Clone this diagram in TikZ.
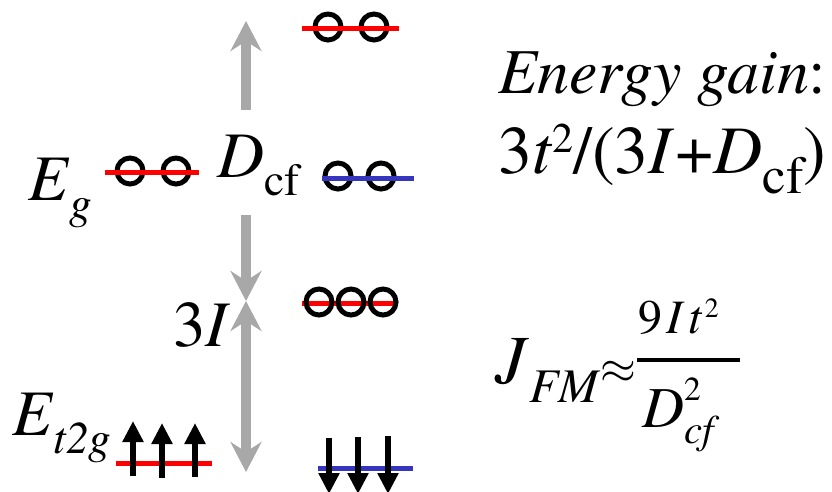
\RequirePackage{fix-cm}
\documentclass[tikz,border=0pt]{standalone}
\usepackage{fontspec}
\IfFontExistsTF{texgyretermes-regular.otf}{%
  \setmainfont{texgyretermes}[Extension=.otf, UprightFont=*-regular, ItalicFont=*-italic, BoldFont=*-bold, BoldItalicFont=*-bolditalic]}{}
\usepackage{graphicx}
\usetikzlibrary{arrows.meta}
\definecolor{lvblue}{HTML}{3535BD}
\definecolor{gaparrgray}{HTML}{A8A8A8}
\newcommand{\lsub}[1]{\raisebox{-0.28em}{\scalebox{0.7}{#1}}}
\newcommand{\lsup}[1]{\raisebox{0.32em}{\scalebox{0.58}{#1}}}
\newcommand{\bsub}[1]{\raisebox{-0.3em}{\scalebox{0.78}{#1}}}
\newcommand{\bsup}[1]{\raisebox{0.3em}{\scalebox{0.62}{#1}}}
\tikzset{
  lvlred/.style={draw=red, line width=5pt},
  lvlblue/.style={draw=lvblue, line width=5pt},
  orb/.style={circle, draw=black, line width=5pt, minimum size=26pt, inner sep=0pt},
  gaparr/.style={draw=gaparrgray, line width=10pt, -{Stealth[length=30pt,width=31pt,inset=10pt]}},
  spinarr/.style={draw=black, line width=6pt, -{Triangle[length=21pt,width=20pt]}},
  lbl/.style={inner sep=0pt, anchor=base west, font=\fontsize{65}{70}\selectfont},
  txt/.style={inner sep=0pt, anchor=base west, font=\fontsize{64}{70}\selectfont},
}

\begin{document}
\begin{tikzpicture}[x=1pt, y=-1pt]
\useasboundingbox (0,0) rectangle (832,491);
% energy levels
\node[orb] (o1) at (328,27) {};
\node[orb] (o2) at (374,27) {};
\draw[lvlred] (302,28) -- (399,28);
\node[orb] (o3) at (130,171) {};
\node[orb] (o4) at (176,171) {};
\draw[lvlred] (105,172) -- (199,172);
\node[orb] (o5) at (338,176) {};
\node[orb] (o6) at (381,176) {};
\draw[lvlblue] (322,178) -- (414,178);
\draw[lvlred] (302,303) -- (397,303);
\node[orb] (o7) at (319,302) {};
\node[orb] (o8) at (351,302) {};
\node[orb] (o9) at (383,302) {};
\draw[lvlred] (116,463) -- (212,463);
\draw[lvlblue] (318,468) -- (413,468);
% spins
\draw[spinarr] (133,476) -- (133,421);
\draw[spinarr] (162,478) -- (162,423);
\draw[spinarr] (195,477) -- (195,423);
\draw[spinarr] (329,438) -- (329,494);
\draw[spinarr] (358,437) -- (358,494);
\draw[spinarr] (388,436) -- (388,494);
% gaps
\coordinate (g0) at (246,110);
\coordinate (g1) at (246,21);
\coordinate (g2) at (246,215);
\coordinate (g3) at (246,301);
\coordinate (g4) at (246,472);
\draw[gaparr] (g0) -- (g1);
\draw[gaparr] (g2) -- (g3);
\draw[gaparr, {Stealth[length=30pt,width=31pt,inset=10pt]}-{Stealth[length=30pt,width=31pt,inset=10pt]}] (g3) -- (g4);
% labels
\node[lbl] (eg) at (28,200) {\textit{E}\lsub{\textit{g}}};
\node[lbl] (dcf) at (217,177) {\textit{D}\lsub{cf}};
\node[lbl] (thi) at (173,346) {3\textit{I}};
\node[lbl] (et2g) at (12,435) {\textit{E}\lsub{\textit{t2g}}};
\node[txt] (gain) at (498,93) {\textit{Energy gain}:};
\node[txt, font=\fontsize{68}{70}\selectfont] (gainf) at (498,173) {3\textit{t}\bsup{2}/(3\textit{I}+\textit{D}\bsub{cf})};
\node[inner sep=0pt, anchor=base west, font=\fontsize{69}{72}\selectfont] (jfm) at (495,383) {\textit{J}\lsub{\textit{FM}}{\fontsize{46}{48}\selectfont$\approx$}};
\node[inner sep=0pt, anchor=base west, font=\fontsize{48}{50}\selectfont] (num) at (638,333) {9\kern4pt\textit{I}\kern4pt\textit{t}\kern2pt\lsup{2}};
\node[inner sep=0pt, anchor=base west, font=\fontsize{58}{60}\selectfont] (den) at (642,427) {\textit{D}\rlap{\raisebox{0.45em}{\scalebox{0.58}{2}}}\lsub{\textit{cf}}};
\coordinate (b0) at (637,360);
\coordinate (b1) at (740,360);
\draw[line width=4.5pt] (b0) -- (b1);
\end{tikzpicture}
\end{document}
